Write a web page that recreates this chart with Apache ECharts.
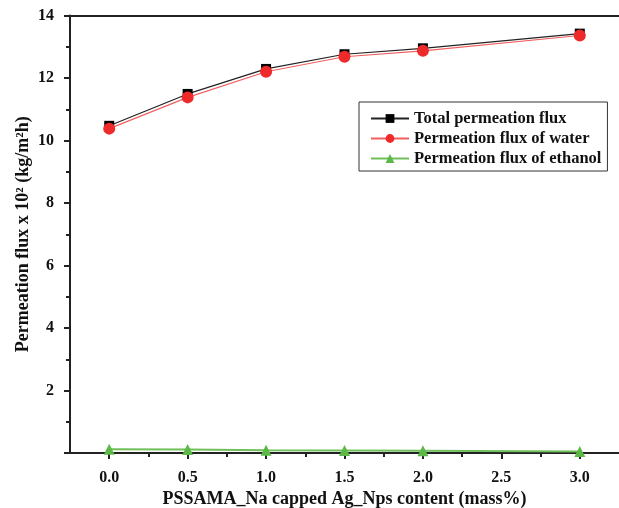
<!DOCTYPE html>
<html>
<head>
<meta charset="utf-8">
<script src="https://cdn.jsdelivr.net/npm/echarts@6/dist/echarts.min.js"></script>
<style>
html,body{margin:0;padding:0;background:#fff;}
#chart{width:619px;height:508px;}
</style>
</head>
<body>
<div id="chart"></div>
<script>
const xValues = [0.0, 0.5, 1.0, 1.5, 2.0, 3.0];
const totalFlux = [10.47, 11.49, 12.29, 12.76, 12.95, 13.42];
const waterFlux = [10.38, 11.38, 12.20, 12.68, 12.87, 13.36];
const ethanolFlux = [0.12, 0.11, 0.09, 0.08, 0.07, 0.05];
const xMajorTicks = [0.0, 0.5, 1.0, 1.5, 2.0, 2.5, 3.0];
const xMinorTicks = [0.25, 0.75, 1.25, 1.75, 2.25, 2.75];
const seriesNames = ['Total permeation flux', 'Permeation flux of water', 'Permeation flux of ethanol'];

const FONT = '"Liberation Serif", "Times New Roman", serif';
const pair = (arr) => xValues.map((x, i) => [x, arr[i]]);

const chart = echarts.init(document.getElementById('chart'));
chart.setOption({
  backgroundColor: '#fff',
  animation: false,
  grid: { left: 70, right: 0, top: 15.5, bottom: 55, containLabel: false, outerBoundsMode: 'none' },
  legend: {
    orient: 'vertical',
    left: 359, top: 102,
    padding: [8, 6, 4, 11],
    borderColor: '#333', borderWidth: 1,
    itemWidth: 38, itemHeight: 11, itemGap: 3,
    textStyle: { fontFamily: FONT, fontWeight: 'bold', fontSize: 16.5, color: '#111' },
    data: seriesNames
  },
  xAxis: [
    {
      type: 'value', position: 'bottom', min: -0.25, max: 3.25,
      axisLine: { show: true, onZero: false, lineStyle: { color: '#222', width: 2 } },
      axisTick: { show: true, customValues: xMajorTicks, length: 6, lineStyle: { color: '#222', width: 2 } },
      axisLabel: { customValues: xMajorTicks, margin: 17, fontFamily: FONT, fontWeight: 'bold', fontSize: 16, color: '#111',
        formatter: v => v.toFixed(1) },
      splitLine: { show: false },
      name: 'PSSAMA_Na capped Ag_Nps content (mass%)',
      nameLocation: 'middle', nameGap: 37, nameMoveOverlap: false,
      nameTextStyle: { fontFamily: FONT, fontWeight: 'bold', fontSize: 18, color: '#111' }
    },
    {
      type: 'value', position: 'bottom', min: -0.25, max: 3.25,
      axisLine: { show: false, onZero: false },
      axisTick: { show: true, customValues: xMinorTicks, length: 4, lineStyle: { color: '#222', width: 2 } },
      axisLabel: { show: false },
      splitLine: { show: false }
    },
    {
      type: 'value', position: 'top', min: -0.25, max: 3.25,
      axisLine: { show: true, onZero: false, lineStyle: { color: '#222', width: 2 } },
      axisTick: { show: false },
      axisLabel: { show: false },
      splitLine: { show: false }
    }
  ],
  yAxis: {
    type: 'value', min: 0, max: 14, interval: 2,
    axisLine: { show: true, onZero: false, lineStyle: { color: '#222', width: 2 } },
    axisTick: { show: true, length: 6, lineStyle: { color: '#222', width: 2 } },
    minorTick: { show: true, splitNumber: 2, length: 4, lineStyle: { color: '#222', width: 2 } },
    axisLabel: { margin: 16, fontFamily: FONT, fontWeight: 'bold', fontSize: 16, color: '#111',
      formatter: v => v === 0 ? '' : String(v) },
    splitLine: { show: false },
    name: 'Permeation flux x 10² (kg/m²h)',
    nameLocation: 'middle', nameGap: 38, nameMoveOverlap: false,
    nameTextStyle: { fontFamily: FONT, fontWeight: 'bold', fontSize: 18, color: '#111' }
  },
  series: [
    {
      name: seriesNames[0], type: 'line', data: pair(totalFlux),
      symbol: 'rect', symbolSize: 10,
      itemStyle: { color: '#000' },
      lineStyle: { color: '#222', width: 1.2 }, z: 2
    },
    {
      name: seriesNames[1], type: 'line', data: pair(waterFlux),
      symbol: 'circle', symbolSize: 12,
      itemStyle: { color: '#ee2a2a' },
      lineStyle: { color: '#f06060', width: 1.2 }, z: 3
    },
    {
      name: seriesNames[2], type: 'line', data: pair(ethanolFlux),
      symbol: 'triangle', symbolSize: 11,
      itemStyle: { color: '#5cb847' },
      lineStyle: { color: '#6fbf5a', width: 2 }, z: 4
    }
  ]
});
</script>
</body>
</html>
